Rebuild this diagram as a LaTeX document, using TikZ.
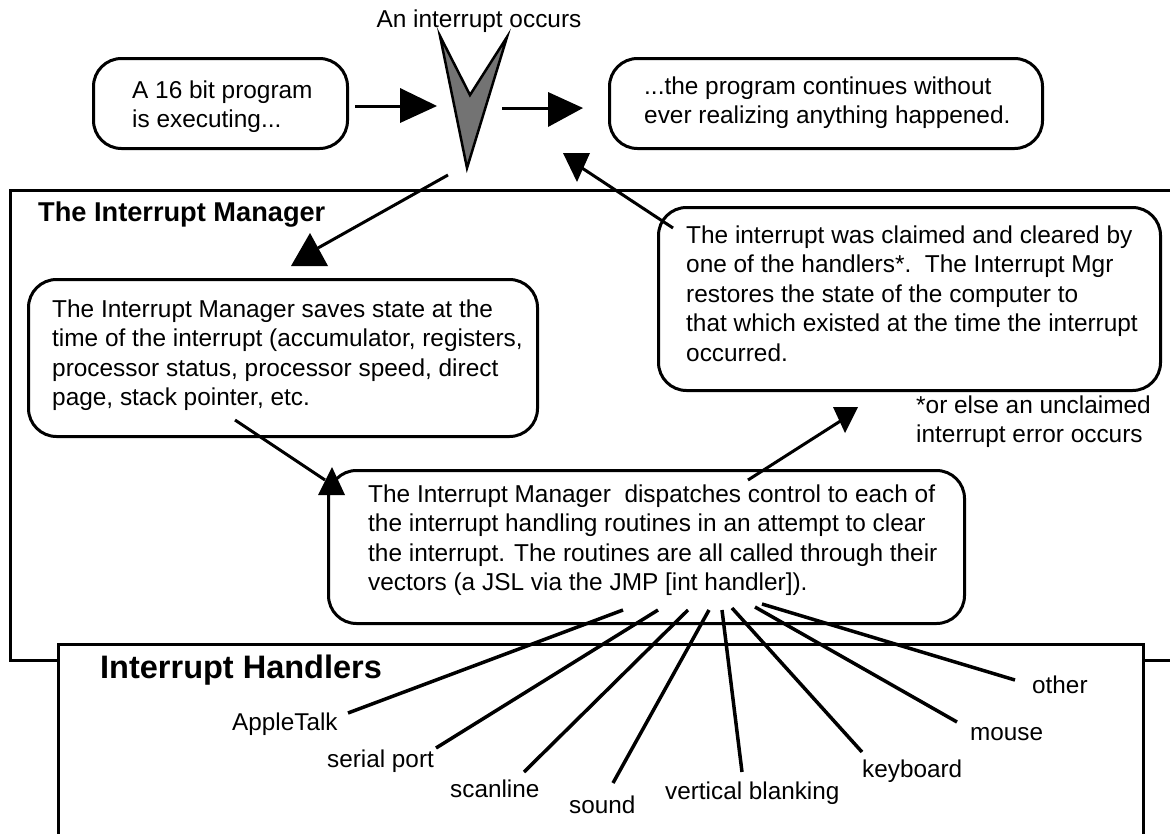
\documentclass[tikz,border=0pt]{standalone}
\usepackage{fontspec}
\setmainfont{Liberation Sans}
\begin{document}
\begin{tikzpicture}[x=1pt,y=-1pt,
  frame/.style={line width=3pt},
  rbox/.style={draw, line width=3pt, rounded corners=28pt, inner sep=0pt, anchor=north west},
  txt/.style={font=\fontsize{24.4}{29.5}\selectfont, align=left, inner sep=0pt, anchor=north west},
  ttl/.style={font=\bfseries\fontsize{27.2}{31}\selectfont, inner sep=0pt, anchor=base west},
  conn/.style={line width=3pt},
  head/.style={fill=black},
  fan/.style={line width=3.5pt},
  lbl/.style={font=\fontsize{24.3}{29}\selectfont, inner sep=0pt, anchor=base west},
]
\useasboundingbox (0,0) rectangle (1170,833);

% Interrupt Manager frame
\draw[frame] (10,190) rectangle (1200,660);
% Interrupt Handlers frame
\node[draw, fill=white, line width=3pt, anchor=north west, minimum width=1085pt, minimum height=230pt, inner sep=0pt] (handlers) at (57,643) {};

% top boxes
\node[txt, anchor=base] (occ) at (479,27) {An interrupt occurs};
\node[rbox, minimum width=254pt, minimum height=90pt] (prog) at (92,57) {};
\node[txt] (progt) at (132,80.5) {A 16 bit program\\is executing...};
\node[rbox, minimum width=433pt, minimum height=90pt] (cont) at (608,57) {};
\node[txt] (contt) at (644,76.5) {...the program continues without\\ever realizing anything happened.};

% the V
\filldraw[fill=black!55, draw=black, line width=2.5pt, line join=miter] (440,36) -- (470,95) -- (507,37) -- (467,168) -- cycle;
\coordinate (vbot) at (448,175);

% manager contents
\node[ttl] (mgrt) at (38,221) {The Interrupt Manager};
\node[rbox, minimum width=509pt, minimum height=157pt] (save) at (27,278) {};
\node[txt] (savet) at (52,299.5) {The Interrupt Manager saves state at the\\time of the interrupt (accumulator, registers,\\processor status, processor speed, direct\\page, stack pointer, etc.};
\node[rbox, minimum width=502pt, minimum height=183pt] (rest) at (657,206) {};
\node[txt] (restt) at (686,225.5) {The interrupt was claimed and cleared by\\one of the handlers*.\ \ The Interrupt Mgr\\restores the state of the computer to\\that which existed at the time the interrupt\\occurred.};
\node[txt] (foot) at (916,395.5) {*or else an unclaimed\\interrupt error occurs};
\node[rbox, minimum width=636pt, minimum height=153pt] (disp) at (327,469) {};
\node[txt] (dispt) at (368,484.5) {The Interrupt Manager\ \ dispatches control to each of\\the interrupt handling routines in an attempt to clear\\the interrupt. The routines are all called through their\\vectors (a JSL via the JMP [int handler]).};

% handlers contents
\node[ttl, font=\bfseries\fontsize{32.5}{36}\selectfont] (hdlt) at (100,678) {Interrupt Handlers};
\node[lbl] (l1) at (232,730) {AppleTalk};
\node[lbl] (l2) at (327,767) {serial port};
\node[lbl] (l3) at (450,797) {scanline};
\node[lbl] (l4) at (569,813) {sound};
\node[lbl] (l5) at (665,799) {vertical blanking};
\node[lbl] (l6) at (862,777) {keyboard};
\node[lbl] (l7) at (970,740) {mouse};
\node[lbl] (l8) at (1032,693) {other};

% arrows
\coordinate (a1s) at (355,106); \coordinate (a1e) at (400,106);
\draw[conn] (a1s) -- (a1e);
\fill[head] (400,88) -- (400,123) -- (437,106) -- cycle;
\coordinate (a2s) at (502,108); \coordinate (a2e) at (548,108);
\draw[conn] (a2s) -- (a2e);
\fill[head] (548,92) -- (548,127) -- (583,108) -- cycle;
\coordinate (a3e) at (318,248);
\draw[conn] (vbot) -- (a3e);
\fill[head] (310,233) -- (291,266) -- (328,266) -- cycle;
\coordinate (a4s) at (235,420); \coordinate (a4e) at (325,480);
\draw[conn] (a4s) -- (a4e);
\fill[head] (332,467) -- (318,495) -- (345,495) -- cycle;
\coordinate (a5s) at (748,480); \coordinate (a5e) at (842,420);
\draw[conn] (a5s) -- (a5e);
\fill[head] (833,407) -- (858,407) -- (845,433) -- cycle;
\coordinate (a6s) at (673,228); \coordinate (a6e) at (582,168);
\draw[conn] (a6s) -- (a6e);
\fill[head] (563,153) -- (590,153) -- (577,182) -- cycle;

% fan of handler lines
\foreach \u/\v [count=\i] in {{623,610}/{348,713},{658,610}/{436,748},{688,610}/{524,772},{709,610}/{613,783},{722,610}/{742,772},{732,608}/{862,752},{755,607}/{957,722},{762,604}/{1015,680}}{
  \coordinate (f\i) at (\u); \coordinate (g\i) at (\v);
  \draw[fan] (f\i) -- (g\i);
}
\end{tikzpicture}
\end{document}
